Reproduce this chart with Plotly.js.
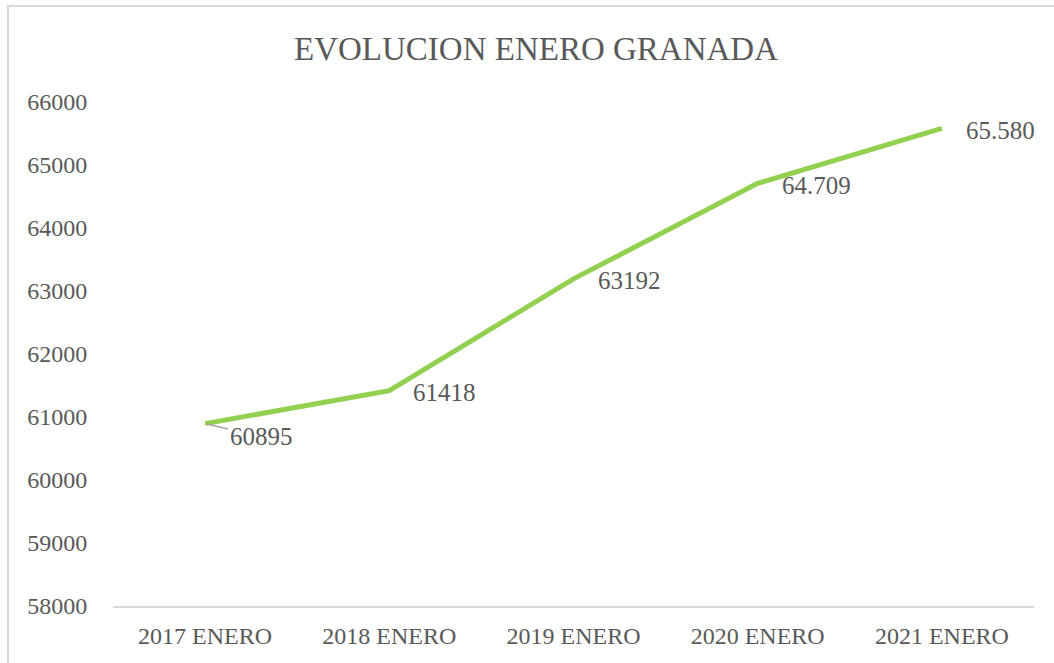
<!DOCTYPE html>
<html>
<head>
<meta charset="utf-8">
<script src="https://cdn.plot.ly/plotly-3.0.1.min.js"></script>
<style>
  html, body { margin: 0; padding: 0; background: #ffffff; }
  #chart { position: absolute; left: 0; top: 0; width: 1054px; height: 663px; }
  #frame { position: absolute; left: 7px; top: 5px; width: 2000px; height: 2000px;
           border-left: 2px solid #d9d9d9; border-top: 2px solid #d9d9d9; pointer-events: none; }
</style>
</head>
<body>
<div id="chart"></div>
<div id="frame"></div>
<script>
const categories = ["2017 ENERO", "2018 ENERO", "2019 ENERO", "2020 ENERO", "2021 ENERO"];
const values = [60895, 61418, 63192, 64709, 65580];
const labelTexts = ["60895", "61418", "63192", "64.709", "65.580"];
const yTicks = [58000, 59000, 60000, 61000, 62000, 63000, 64000, 65000, 66000];

const textColor = "#595959";
const fontFamily = "'Liberation Serif', 'DejaVu Serif', serif";

const trace = {
  x: categories,
  y: values,
  type: "scatter",
  mode: "lines",
  line: { color: "#92D050", width: 5 },
  hoverinfo: "skip"
};

const annotations = categories.map((c, i) => {
  if (i === 0) {
    return {
      x: c, y: values[i], xref: "x", yref: "y",
      text: labelTexts[i], showarrow: true, arrowhead: 0, arrowwidth: 1.5,
      arrowcolor: "#a6a6a6", ax: 56, ay: 13, standoff: 2,
      font: { family: fontFamily, size: 25, color: textColor }
    };
  }
  return {
    x: c, y: values[i], xref: "x", yref: "y",
    text: labelTexts[i], showarrow: false, xanchor: "left", yanchor: "middle",
    xshift: 22, yshift: -2,
    font: { family: fontFamily, size: 25, color: textColor }
  };
});

const layout = {
  width: 1054, height: 663,
  margin: { l: 113, r: 20, t: 102, b: 57 },
  paper_bgcolor: "rgba(0,0,0,0)",
  plot_bgcolor: "rgba(0,0,0,0)",
  showlegend: false,
  title: {
    text: "EVOLUCION ENERO GRANADA",
    font: { family: fontFamily, size: 33, color: textColor },
    x: 536 / 1054, xanchor: "center", xref: "container",
    y: 1 - 48 / 663, yref: "container", yanchor: "middle"
  },
  xaxis: {
    type: "category",
    range: [-0.5, 4.5],
    showgrid: false, zeroline: false,
    showline: true, linecolor: "#d9d9d9", linewidth: 2,
    ticks: "outside", ticklen: 7, tickcolor: "rgba(0,0,0,0)",
    tickfont: { family: fontFamily, size: 24, color: textColor },
    fixedrange: true
  },
  yaxis: {
    range: [58000, 66000],
    tickvals: yTicks,
    tickformat: "d",
    showgrid: false, zeroline: false, showline: false,
    ticks: "outside", ticklen: 20, tickcolor: "rgba(0,0,0,0)",
    tickfont: { family: fontFamily, size: 24, color: textColor },
    fixedrange: true
  },
  annotations: annotations
};

Plotly.newPlot("chart", [trace], layout, { displayModeBar: false, staticPlot: true });
</script>
</body>
</html>
